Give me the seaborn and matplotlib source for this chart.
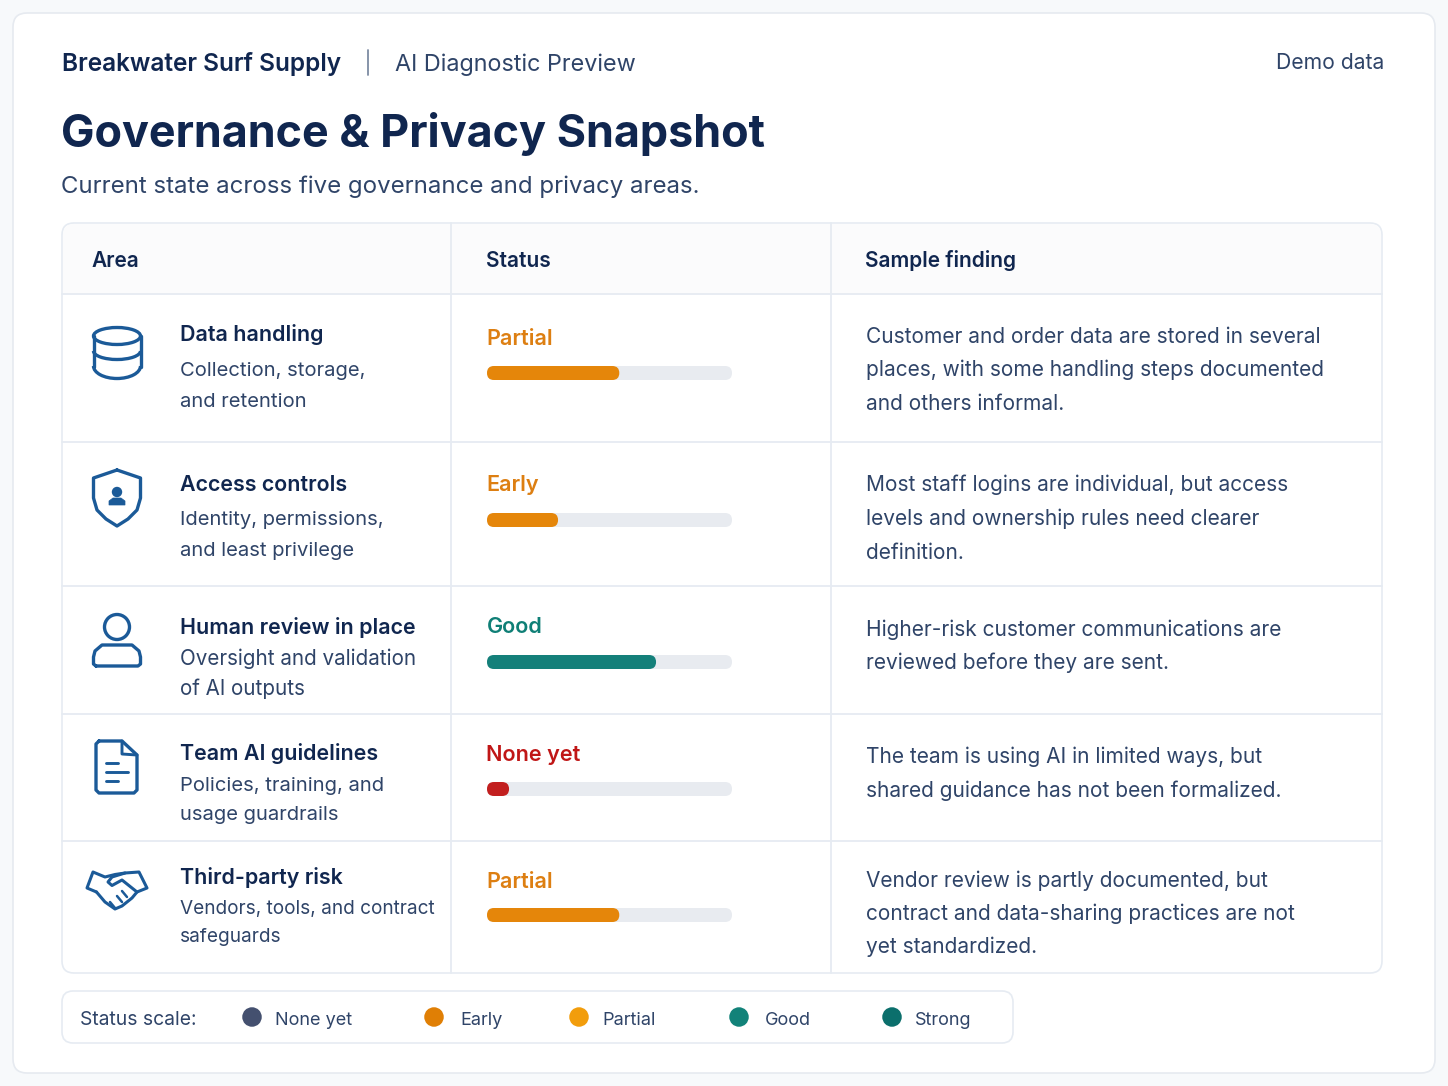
import matplotlib
matplotlib.use("Agg")
import matplotlib.pyplot as plt
from matplotlib.patches import FancyBboxPatch, Circle, Ellipse, Arc, Polygon
import seaborn as sns
import pandas as pd

# table content
areas = ["Data handling", "Access controls", "Human review in place", "Team AI guidelines", "Third-party risk"]
area_notes = [
    ["Collection, storage,", "and retention"],
    ["Identity, permissions,", "and least privilege"],
    ["Oversight and validation", "of AI outputs"],
    ["Policies, training, and", "usage guardrails"],
    ["Vendors, tools, and contract", "safeguards"],
]
statuses = ["Partial", "Early", "Good", "None yet", "Partial"]
levels = [54, 29, 69, 9, 54]
findings = [
    ["Customer and order data are stored in several", "places, with some handling steps documented", "and others informal."],
    ["Most staff logins are individual, but access", "levels and ownership rules need clearer", "definition."],
    ["Higher-risk customer communications are", "reviewed before they are sent."],
    ["The team is using AI in limited ways, but", "shared guidance has not been formalized."],
    ["Vendor review is partly documented, but", "contract and data-sharing practices are not", "yet standardized."],
]
scale_names = ["None yet", "Early", "Partial", "Good", "Strong"]
headers = ["Area", "Status", "Sample finding"]

# colours
NAVY = "#10264f"
BODY = "#2f4468"
ICON = "#1b5a98"
LINE = "#e6ebf2"
status_text = {"Partial": "#dd7f12", "Early": "#dd7f12", "Good": "#0f7f76", "None yet": "#c01616"}
status_bar = {"Partial": "#e5860a", "Early": "#e5860a", "Good": "#14807a", "None yet": "#c21f1f"}
scale_colors = ["#44506f", "#e07f05", "#f29d0c", "#128279", "#0b6f6c"]

# layout in pixels
W, H = 1448, 1086
row_lines = [294, 442, 586, 714, 841]
name_base = [341, 491, 634, 760, 884]
note_base = [[376, 407], [525, 556], [665, 695], [791, 820], [914, 942]]
note_size = [20.2, 20.2, 20.6, 20.2, 19]
status_base = [345, 491, 633, 761, 888]
bar_mid = [373, 520, 662, 789, 915]
find_base = [[343, 376, 410], [491, 525, 559], [636, 669], [763, 797], [887, 920, 953]]
scale_dot = [252, 434, 579, 739, 892]
scale_txt = [275, 460, 602, 765, 915]

sns.set_theme(style="white")
plt.rcParams["font.family"] = ["Inter", "DejaVu Sans"]

fig = plt.figure(figsize=(W / 100, H / 100), dpi=100, facecolor="#f7f9fb")
ax = fig.add_axes([0, 0, 1, 1])
ax.set_xlim(0, W)
ax.set_ylim(H, 0)
ax.axis("off")


def rbox(x0, y0, x1, y1, r, fc, ec, lw=1.2, z=1):
    ax.add_patch(FancyBboxPatch((x0, y0), x1 - x0, y1 - y0, boxstyle=f"round,pad=0,rounding_size={r}",
                                fc=fc, ec=ec, lw=lw, zorder=z))


def txt(x, y, s, size, color=BODY, weight="normal"):
    ax.text(x, y, s, fontsize=size * 0.72, color=color, fontweight=weight, va="baseline", ha="left")


def stroke(xs, ys, lw=2.4):
    ax.plot(xs, ys, color=ICON, lw=lw, solid_capstyle="round", solid_joinstyle="round", zorder=5)


# card and table frames
rbox(13, 13, 1435, 1073, 14, "white", "#e6eaf0")
rbox(62, 223, 1382, 973, 12, "white", LINE, z=2)
rbox(63, 224, 1381, 290, 11, "#fbfbfc", "none", lw=0, z=2)
ax.fill_between([63, 1381], 270, 294, color="#fbfbfc", lw=0, zorder=2)
for y in row_lines:
    ax.plot([62, 1382], [y, y], color=LINE, lw=1.3, zorder=3)
for x in [451, 831]:
    ax.plot([x, x], [223, 973], color=LINE, lw=1.3, zorder=3)

# header
txt(62, 71, "Breakwater Surf Supply", 24.4, NAVY, "semibold")
ax.plot([368, 368], [50, 75], color="#7d8ba3", lw=1.3)
txt(395, 71, "AI Diagnostic Preview", 23.4, BODY)
ax.text(1384, 69, "Demo data", fontsize=21.1 * 0.72, color=BODY, ha="right", va="baseline")
txt(61, 147, "Governance & Privacy Snapshot", 44.9, NAVY, "bold")
txt(61, 193, "Current state across five governance and privacy areas.", 24.0, BODY)

for x, s in zip([91, 486, 865], headers):
    txt(x, 267, s, 20.9, NAVY, "semibold")

# table rows
for i in range(5):
    txt(180, name_base[i], areas[i], 21.4, NAVY, "semibold")
    for y, s in zip(note_base[i], area_notes[i]):
        txt(180, y, s, note_size[i], BODY)
    txt(486.5, status_base[i], statuses[i], 21.6, status_text[statuses[i]], "semibold")
    for y, s in zip(find_base[i], findings[i]):
        txt(866, y, s, 20.9, BODY)

# status bars, one small axes per row
for i in range(5):
    top = bar_mid[i] - 7
    bar_ax = fig.add_axes([487 / W, 1 - (top + 14) / H, 245 / W, 14 / H])
    row = pd.DataFrame({"area": [areas[i]], "level": [levels[i]], "track": [100]})
    sns.barplot(data=row, x="track", y="area", color="#e8ebf0", width=1, saturation=1, ax=bar_ax)
    sns.barplot(data=row, x="level", y="area", color=status_bar[statuses[i]], width=1, saturation=1, ax=bar_ax)
    bar_ax.set_xlim(0, 100)
    bar_ax.axis("off")
    # swap the square bars for pill shapes
    aspect = (100 / 245) / (bar_ax.get_ylim()[0] - bar_ax.get_ylim()[1]) * 14
    for p in list(bar_ax.patches):
        pill = FancyBboxPatch((p.get_x(), p.get_y()), p.get_width(), p.get_height(),
                              boxstyle="round,pad=0,rounding_size=2.85", mutation_aspect=1 / aspect,
                              fc=p.get_facecolor(), ec="none")
        p.set_visible(False)
        bar_ax.add_patch(pill)

# icons
lw = 2.4
# database
ax.add_patch(Ellipse((117, 336), 47, 17, fc="none", ec=ICON, lw=lw, zorder=5))
ax.add_patch(Arc((117, 351), 47, 17, theta1=0, theta2=180, color=ICON, lw=lw, zorder=5))
ax.add_patch(Arc((117, 366), 47, 25, theta1=0, theta2=180, color=ICON, lw=lw, zorder=5))
stroke([93.5, 93.5], [336, 367])
stroke([140.5, 140.5], [336, 367])
# shield
stroke([117, 140.5, 140.5, 137, 128, 117, 106, 97, 93.5, 93.5, 117],
       [470, 478, 498, 510, 519, 526, 519, 510, 498, 478, 470])
ax.add_patch(Circle((117, 492), 5.2, fc=ICON, ec="none", zorder=5))
ax.add_patch(Polygon([(109, 505), (109, 501), (113, 498), (121, 498), (125, 501), (125, 505)],
                     fc=ICON, ec=ICON, lw=0.5, zorder=5))
# person
ax.add_patch(Circle((117, 627), 12.5, fc="none", ec=ICON, lw=lw, zorder=5))
stroke([96, 138, 140.5, 140.5, 139, 132, 102, 95, 93.5, 93.5, 96],
       [666, 666, 664, 657, 651, 645, 645, 651, 657, 664, 666])
# document
stroke([99, 122, 137, 137, 134, 99, 96, 96, 99],
       [741, 741, 755, 790, 793, 793, 790, 744, 741])
stroke([122, 122, 137], [741, 754, 755], lw=2.1)
stroke([106, 118], [763, 763], lw=2.1)
stroke([106, 128], [772, 772], lw=2.1)
stroke([106, 118], [781, 781], lw=2.1)
# handshake
stroke([96.5, 87, 93, 105, 115, 125, 139, 147, 137],
       [892, 888, 872, 877, 874.5, 873, 872, 888, 892], lw=2.2)
stroke([125, 112, 108, 112, 122, 137, 132, 127, 122, 115, 105, 96.5],
       [873, 877, 882, 885.5, 880, 892, 898, 902, 906, 909, 902, 892], lw=2.2)
stroke([127, 122], [897, 891], lw=1.8)
stroke([122, 117], [902, 896], lw=1.8)
stroke([115, 110], [908, 902], lw=1.8)

# status scale legend
rbox(62, 991, 1013, 1043, 11, "white", LINE)
txt(80, 1025, "Status scale:", 19.3, BODY)
for x0, x1, s, c in zip(scale_dot, scale_txt, scale_names, scale_colors):
    ax.add_patch(Ellipse((x0, 1017), 19.5, 19.5, fc=c, ec="none"))
    txt(x1, 1025, s, 18.1, BODY)

fig.savefig("out.png", dpi=100, facecolor=fig.get_facecolor())
